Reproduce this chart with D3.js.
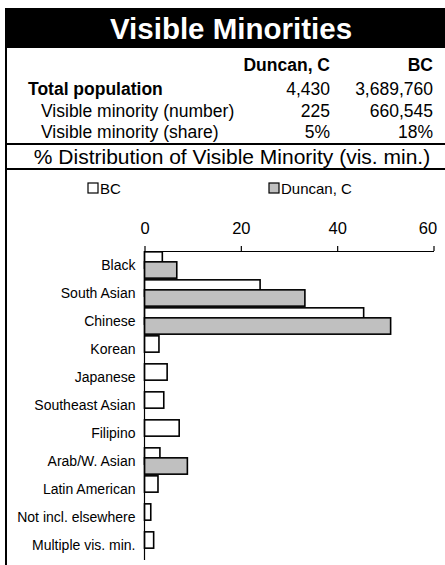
<!DOCTYPE html>
<html><head><meta charset="utf-8">
<script src="https://cdn.jsdelivr.net/npm/d3@7/dist/d3.min.js"></script>
<style>
body{margin:0;background:#fff;}
svg{display:block;font-family:Arial,"Liberation Sans",sans-serif;}
</style></head>
<body>
<script>
const title = "Visible Minorities";
const subtitle = "% Distribution of Visible Minority (vis. min.)";
const areas = ["Duncan, C", "BC"];
const rowLabels = ["Total population", "Visible minority (number)", "Visible minority (share)"];
const duncanStats = ["4,430", "225", "5%"];
const bcStats = ["3,689,760", "660,545", "18%"];
const categories = ["Black","South Asian","Chinese","Korean","Japanese","Southeast Asian","Filipino","Arab/W. Asian","Latin American","Not incl. elsewhere","Multiple vis. min."];
const bcValues = [3.7, 24.0, 45.5, 3.0, 4.7, 4.0, 7.2, 3.2, 2.8, 1.3, 1.9];
const duncanValues = [6.7, 33.3, 51.1, 0, 0, 0, 0, 8.9, 0, 0, 0];
const xTicks = [0, 20, 40, 60];

const W = 445, H = 565;
const svg = d3.select("body").append("svg").attr("width", W).attr("height", H);

// title bar
svg.append("rect").attr("x", 5).attr("y", 8).attr("width", W - 5).attr("height", 40).attr("fill", "#000");
svg.append("text").attr("x", 231).attr("y", 39).attr("text-anchor", "middle")
  .attr("fill", "#fff").attr("font-weight", "bold").attr("font-size", 29.5).text(title);

// left border
svg.append("line").attr("x1", 6).attr("x2", 6).attr("y1", 48).attr("y2", H).attr("stroke", "#000").attr("stroke-width", 2);

// header table
const fs = 17.5;
svg.append("text").attr("x", 330).attr("y", 71).attr("text-anchor", "end").attr("font-weight", "bold").attr("font-size", fs).text(areas[0]);
svg.append("text").attr("x", 433).attr("y", 71).attr("text-anchor", "end").attr("font-weight", "bold").attr("font-size", fs).text(areas[1]);
const rowY = [95, 117, 138];
rowLabels.forEach((r, i) => {
  svg.append("text").attr("x", i === 0 ? 28 : 41).attr("y", rowY[i])
    .attr("font-weight", i === 0 ? "bold" : "normal").attr("font-size", fs).text(r);
  svg.append("text").attr("x", 330).attr("y", rowY[i]).attr("text-anchor", "end").attr("font-size", fs).text(duncanStats[i]);
  svg.append("text").attr("x", 433).attr("y", rowY[i]).attr("text-anchor", "end").attr("font-size", fs).text(bcStats[i]);
});
svg.append("line").attr("x1", 5).attr("x2", W).attr("y1", 144).attr("y2", 144).attr("stroke", "#000").attr("stroke-width", 2);
svg.append("text").attr("x", 232).attr("y", 164).attr("text-anchor", "middle").attr("font-size", 21).text(subtitle);
svg.append("line").attr("x1", 5).attr("x2", W).attr("y1", 169).attr("y2", 169).attr("stroke", "#000").attr("stroke-width", 2);

// legend
const legend = [{name: "BC", fill: "#fff", x: 88}, {name: "Duncan, C", fill: "#c0c0c0", x: 269}];
legend.forEach(l => {
  svg.append("rect").attr("x", l.x).attr("y", 183).attr("width", 10).attr("height", 10)
    .attr("fill", l.fill).attr("stroke", "#000").attr("stroke-width", 1.2);
  svg.append("text").attr("x", l.x + 12).attr("y", 193.5).attr("font-size", 15).text(l.name);
});

// chart
const x = d3.scaleLinear().domain([0, 60]).range([144.5, 433.5]);
const y = d3.scaleBand().domain(categories).range([251, 559]).paddingInner(0.06).paddingOuter(0.03);

const xAxis = svg.append("g").attr("transform", "translate(0,251)")
  .call(d3.axisTop(x).tickValues(xTicks).tickSize(5).tickPadding(12).tickSizeOuter(0));
xAxis.select(".domain").attr("stroke", "#000").attr("stroke-width", 1.2);
xAxis.selectAll(".tick line").attr("stroke", "#000").attr("stroke-width", 1.2);
xAxis.selectAll(".tick text").attr("font-size", 16.5).attr("font-family", "Arial, 'Liberation Sans', sans-serif").attr("fill", "#000")
  .attr("dx", d => d === 60 ? -6 : 0);

const bh = y.bandwidth() * 0.62;
const off = y.bandwidth() - bh;

const g = svg.append("g");
g.selectAll(".bc").data(categories).join("rect").attr("class", "bc")
  .attr("x", x(0)).attr("y", d => y(d))
  .attr("width", (d, i) => x(bcValues[i]) - x(0)).attr("height", bh)
  .attr("fill", "#fff").attr("stroke", "#000").attr("stroke-width", 1.6);
g.selectAll(".dn").data(categories.filter((d, i) => duncanValues[i] > 0)).join("rect").attr("class", "dn")
  .attr("x", x(0)).attr("y", d => y(d) + off)
  .attr("width", d => x(duncanValues[categories.indexOf(d)]) - x(0)).attr("height", bh)
  .attr("fill", "#c0c0c0").attr("stroke", "#000").attr("stroke-width", 1.6);

const yAxis = svg.append("g").attr("transform", `translate(${x(0)},0)`)
  .call(d3.axisLeft(y).tickSize(0).tickPadding(9).tickSizeOuter(0));
yAxis.select(".domain").attr("stroke", "#000").attr("stroke-width", 1.2).attr("d", "M0,251V560");
yAxis.selectAll(".tick text").attr("font-size", 14).attr("font-family", "Arial, 'Liberation Sans', sans-serif").attr("fill", "#000")
  .attr("dy", "0.35em");
</script>
</body></html>
